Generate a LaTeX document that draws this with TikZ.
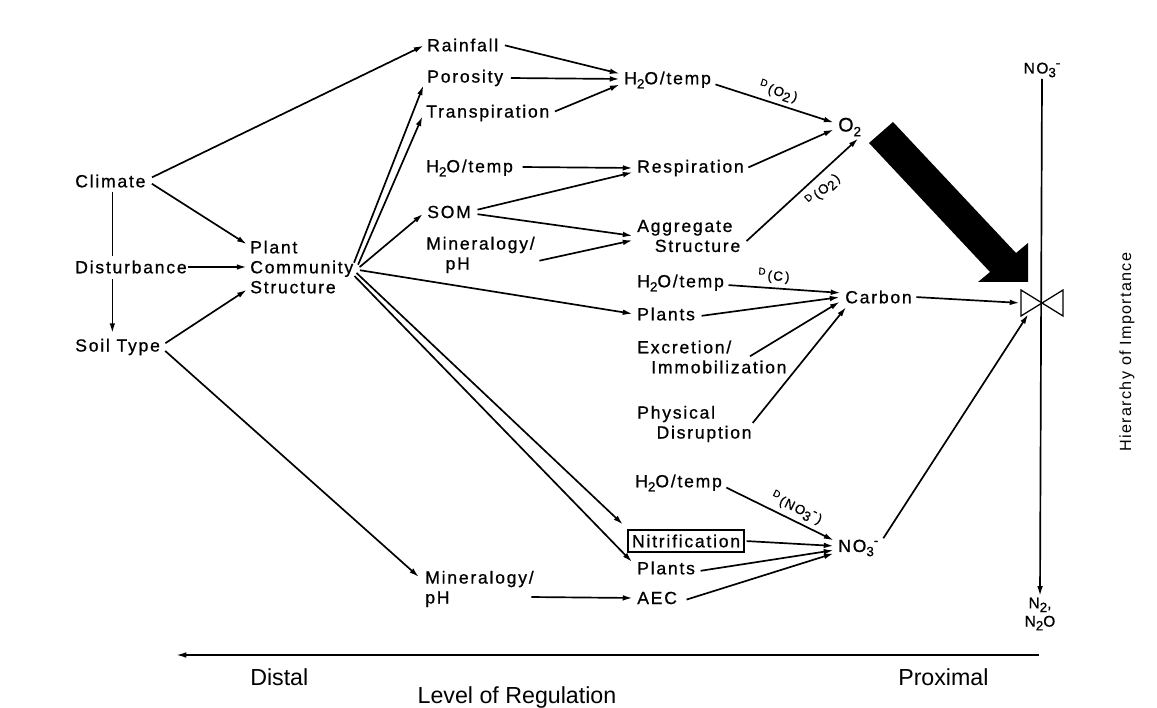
\documentclass[tikz,border=0pt]{standalone}
\usepackage{fontspec}
\setmainfont{Liberation Sans}[LetterSpace=10, FakeBold=0.8]
\newfontfamily\axisfont{Liberation Sans}
\newfontfamily\hierfont{Liberation Sans}[LetterSpace=8]
\usetikzlibrary{arrows.meta,calc}

\newcommand\dn[1]{\raisebox{-0.45ex}{\fontsize{9.5}{9.5}\selectfont #1}}
\newcommand\upm{\raisebox{0.75ex}{\fontsize{9.5}{9.5}\selectfont -}}
\newcommand\dlab[1]{\fontsize{9.5}{9.5}\selectfont\raisebox{0.7ex}{\fontsize{7}{7}\selectfont D}\,(#1\,)}

\tikzset{
  lbl/.style={inner sep=0pt, anchor=west, align=left, font=\fontsize{12.5}{14.2}\selectfont},
  arr/.style={-{Latex[length=7pt,width=4pt]}, line width=1.2pt, shorten >=1pt, shorten <=1pt},
  ln/.style={line width=1.2pt}
}

\begin{document}
\begin{tikzpicture}[x=0.025cm, y=-0.025cm]

\useasboundingbox (0,0) rectangle (1157,708);

% distal drivers
\node[lbl] (clim) at (75,181) {Climate};
\node[lbl] (dist) at (75,267) {Disturbance};
\node[lbl] (soil) at (75,347) {Soil Type};
\node[lbl] (pcs) at (250,267) {Plant\\Community\\Structure};

% second column
\node[lbl] (rain) at (427,45) {Rainfall};
\node[lbl] (poro) at (427,78) {Porosity};
\node[lbl] (trans) at (426,113) {Transpiration};
\node[lbl] (wta) at (426,168) {H\dn{2}O/temp};
\node[lbl] (som) at (427,212) {SOM};
\node[lbl] (mina) at (426,255) {Mineralogy/\\\hspace*{1.1em}pH};
\node[lbl] (minb) at (425,589) {Mineralogy/\\pH};

% third column
\node[lbl] (wtb) at (624,80) {H\dn{2}O/temp};
\node[lbl] (resp) at (637,168) {Respiration};
\node[lbl] (aggr) at (637,236) {Aggregate\\\hspace*{1em}Structure};
\node[lbl] (wtc) at (637,283) {H\dn{2}O/temp};
\node[lbl] (plc) at (637,314) {Plants};
\node[lbl] (excr) at (637,357) {Excretion/\\\hspace*{0.8em}Immobilization};
\node[lbl] (phys) at (637,424) {Physical\\\hspace*{1.1em}Disruption};
\node[lbl] (wtd) at (635,483) {H\dn{2}O/temp};
\node[lbl, draw, line width=1.2pt, inner sep=3pt] (nitr) at (627,541) {Nitrification};
\node[lbl] (pln) at (637,568) {Plants};
\node[lbl] (aec) at (637,598) {AEC};

% proximal
\node[lbl, font=\fontsize{14}{14}\selectfont] (otwo) at (838,127) {O\dn{2}};
\node[lbl] (carb) at (845,297) {Carbon};
\node[lbl] (nthree) at (838,548) {NO\dn{3}\upm};

% hierarchy axis
\node[inner sep=0pt, font=\fontsize{11}{11}\selectfont] (ntop) at (1042,70) {NO\dn{3}\upm};
\node[inner sep=0pt, align=center, font=\fontsize{11}{13}\selectfont] (nbot) at (1040,614) {N\dn{2},\\N\dn{2}O};
\coordinate (bow) at (1042,303);
\node[inner sep=0pt, rotate=90, font=\hierfont\fontsize{11.5}{11.5}\selectfont] (hier) at (1127,352) {Hierarchy of Importance};

% left part
\draw[arr] ($(clim.east)+(5,-3)$) -- ($(rain.west)+(-2,0)$);
\draw[arr] ($(clim.east)+(5,2)$) -- ($(pcs.west)+(-2,-22)$);
\draw[ln] ($(clim.south)+(2,4)$) -- ($(clim.south |- dist.north)+(2,-4)$);
\draw[arr] ($(clim.south |- dist.south)+(2,4)$) -- ($(clim.south |- soil.north)+(2,-4)$);
\draw[arr] (dist.east) -- ($(pcs.west)+(-2,0)$);
\draw[arr] ($(soil.east)+(4,-3)$) -- ($(pcs.west)+(-2,22)$);
\draw[arr] ($(soil.east)+(4,3)$) -- ($(minb.west)+(-5,-11)$);

% out of plant community structure
\draw[arr] ($(pcs.east)+(0,-3)$) -- ($(poro.west)+(-3,6)$);
\draw[arr] ($(pcs.east)+(4,-1)$) -- ($(trans.west)+(-3,2)$);
\draw[arr] ($(pcs.east)+(5,1)$) -- ($(som.west)+(-3,1)$);
\draw[arr] ($(pcs.east)+(5,3)$) -- ($(plc.west)+(-3,0)$);
\draw[arr] ($(pcs.east)+(2,5)$) -- ($(nitr.north west)+(-3,-4)$);
\draw[arr] ($(pcs.east)+(0,8)$) -- ($(pln.west)+(-4,-5)$);

% into second level
\draw[arr] ($(rain.east)+(5,0)$) -- ($(wtb.west)+(-3,-6)$);
\draw[arr] ($(poro.east)+(6,0)$) -- ($(wtb.west)+(-3,-1)$);
\draw[arr] ($(trans.east)+(4,-1)$) -- ($(wtb.west)+(-3,4)$);
\draw[arr] ($(wta.east)+(8,-1)$) -- ($(resp.west)+(-3,0)$);
\draw[arr] ($(som.east)+(5,-2)$) -- ($(resp.west)+(-3,4)$);
\draw[arr] ($(som.east)+(5,2)$) -- ($(aggr.west)+(-3,0)$);
\draw[arr] ($(mina.east)+(3,6)$) -- ($(aggr.west)+(-3,4)$);
\draw[arr] ($(minb.east)+(-4,8)$) -- ($(aec.west)+(-3,0)$);

% to O2
\draw[arr] ($(wtb.east)+(3,4)$) -- node[sloped, above, inner sep=3pt] {\dlab{O\dn{2}}} ($(otwo.west)+(-3,-4)$);
\draw[arr] ($(resp.east)+(3,0)$) -- ($(otwo.west)+(-3,2)$);
\draw[arr] ($(aggr.east)+(5,6)$) -- node[sloped, below, inner sep=4pt, pos=0.6] {\dlab{O\dn{2}}} ($(otwo.south east)+(-2,1)$);

% to carbon
\draw[arr] ($(wtc.east)+(3,2)$) -- node[sloped, above, inner sep=3pt, pos=0.4] {\dlab{C}} ($(carb.west)+(-3,-4)$);
\draw[arr] ($(plc.east)+(5,2)$) -- ($(carb.west)+(-4,0)$);
\draw[arr] ($(excr.east)+(-38,0)$) -- ($(carb.west)+(-4,4)$);
\draw[arr] ($(phys.east)+(0,0)$) -- ($(carb.west)+(2,9)$);

% to nitrate
\draw[arr] ($(wtd.east)+(3,4)$) -- node[sloped, above, inner sep=3pt, pos=0.6] {\dlab{NO\dn{3}\upm}} ($(nthree.west)+(-3,-7)$);
\draw[arr] (nitr.east) -- ($(nthree.west)+(-3,-2)$);
\draw[arr] ($(pln.east)+(4,3)$) -- ($(nthree.west)+(-3,2)$);
\draw[arr] ($(aec.east)+(8,2)$) -- ($(nthree.west)+(-3,5)$);

% to the valve
\draw[arr] ($(carb.east)+(3,0)$) -- ($(bow)+(-21,0)$);
\draw[arr] ($(nthree.north east)+(4,0)$) -- ($(bow)+(-13,10)$);

% big arrow from O2
\fill (869,143) -- (990,272) -- (978,282) -- (1028,282) -- (1028,243) -- (1016,253) -- (893,122) -- cycle;

% hierarchy line and valve
\draw[arr] (ntop.south) -- (nbot.north);
\draw[line width=0.9pt, fill=white] ($(bow)+(-21,-13)$) -- ($(bow)+(21,13)$) -- ($(bow)+(21,-13)$) -- ($(bow)+(-21,13)$) -- cycle;

% level of regulation
\coordinate (axr) at (1040,655);
\coordinate (axl) at (175,655);
\draw[arr, line width=1pt] (axr) -- (axl);
\node[anchor=west, inner sep=0pt, font=\axisfont\fontsize{16.5}{16.5}\selectfont] (distal) at (250,677) {Distal};
\node[anchor=west, inner sep=0pt, font=\axisfont\fontsize{16.5}{16.5}\selectfont] (proxi) at (898,677) {Proximal};
\node[inner sep=0pt, font=\axisfont\fontsize{16.5}{16.5}\selectfont] (lvl) at (517,697) {Level of Regulation};

\end{tikzpicture}
\end{document}
